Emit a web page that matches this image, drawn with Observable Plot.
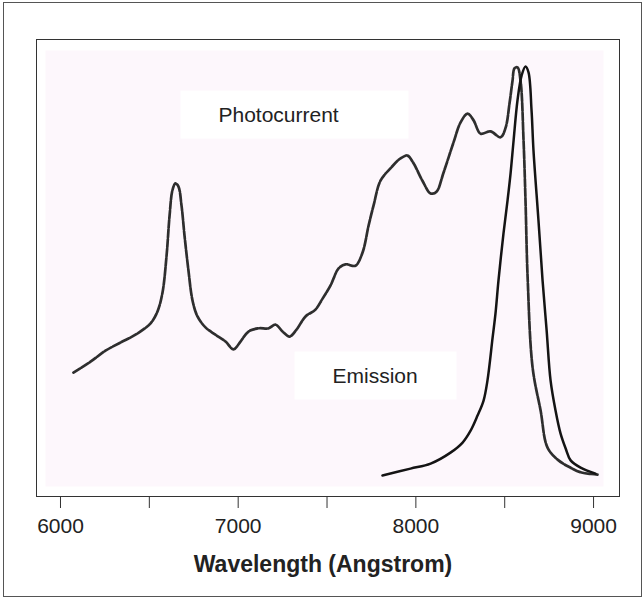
<!DOCTYPE html>
<html><head><meta charset="utf-8">
<script src="https://cdn.jsdelivr.net/npm/d3@7"></script>
<script src="https://cdn.jsdelivr.net/npm/@observablehq/plot@0.6"></script>
<style>
body{margin:0;background:#fff;}
#border{position:absolute;left:3px;top:2px;width:639px;height:595px;border:1px solid #555;box-sizing:border-box;}
#chart{position:absolute;left:0;top:0;}
</style></head><body>
<div id="border"></div><div id="chart"></div>
<script>
// Photocurrent spectrum (wavelength in Angstrom, relative intensity)
const photoWl = [6073,6169,6253,6338,6422,6507,6546,6574,6597,6614,6630,6647,6664,6681,6698,6720,6743,6771,6816,6872,6929,6974,7013,7058,7114,7171,7210,7250,7289,7328,7379,7435,7475,7520,7565,7604,7660,7700,7734,7762,7801,7857,7914,7953,7987,8037,8083,8116,8156,8212,8251,8291,8325,8364,8420,8477,8505,8527,8544,8555,8572,8589,8606,8617,8629,8657,8702,8741,8803,8871,8927,9022];
const photoVal = [27.1,29.5,31.9,33.7,35.4,37.9,40.5,44.6,52.7,61.5,67.0,68.5,67.8,63.7,57.1,49.5,42.9,39.4,37.0,35.4,33.9,32.2,33.9,36.1,36.8,36.8,37.6,36.1,35.0,36.5,39.4,40.9,43.3,46.2,49.9,50.8,50.5,53.4,59.3,63.7,69.1,71.8,74.0,74.6,72.9,69.1,66.3,66.7,70.9,77.5,81.8,83.8,82.3,79.4,79.9,78.6,80.7,86.0,91.0,93.7,93.9,91.0,77.9,64.8,47.9,28.2,18.8,10.7,7.9,6.3,5.3,4.8];
// Emission spectrum
const emisWl = [7812,7970,8083,8195,8263,8308,8347,8381,8403,8432,8448,8465,8493,8516,8533,8550,8572,8595,8617,8634,8651,8662,8690,8713,8736,8758,8786,8814,8843,8871,8927,9011];
const emisVal = [4.6,6.1,7.2,9.6,11.8,14.4,17.7,21.0,25.4,34.8,40.0,47.3,57.5,64.8,70.7,77.9,86.7,92.1,94.1,92.8,84.5,75.7,60.4,47.3,36.3,25.4,18.8,13.8,10.5,7.9,6.3,5.0];
// Axis
const xTicks = [6000,6500,7000,7500,8000,8500,9000];
const xTickLabels = [6000,7000,8000,9000];
const xTitle = "Wavelength (Angstrom)";
// Series labels (anchored at their left edge, in data units)
const labelNames = ["Photocurrent","Emission"];
const labelWl = [6889,7531];
const labelVal = [83.4,26.3];

const FONT = "'Liberation Sans', Arial, Helvetica, sans-serif";
const photo = photoWl.map((w,i)=>({wl:w, v:photoVal[i]}));
const emis = emisWl.map((w,i)=>({wl:w, v:emisVal[i]}));
const labels = labelNames.map((n,i)=>({name:n, wl:labelWl[i], v:labelVal[i]}));
const labelSet = new Set(xTickLabels);

const svg = Plot.plot({
  width: 644, height: 598,
  marginLeft: 36, marginRight: 25, marginTop: 39, marginBottom: 102,
  style: {fontFamily: FONT, fontSize: "21px", color: "#222", background: "transparent"},
  x: {domain: [5865, 9146], axis: null},
  y: {domain: [0, 100], axis: null},
  marks: [
    Plot.frame({fill: "#fdf7fc", stroke: null, insetLeft: 9, insetRight: 16, insetTop: 11, insetBottom: 10}),
    Plot.line(photo, {x: "wl", y: "v", stroke: "#2e2e2e", strokeWidth: 2.7, strokeDasharray: "8 1.5", curve: "catmull-rom"}),
    Plot.line(emis, {x: "wl", y: "v", stroke: "#141414", strokeWidth: 2.5, curve: "catmull-rom"}),
    Plot.text(labels, {x: "wl", y: "v", text: "name", textAnchor: "start", fontSize: 21, fill: "#222"}),
    Plot.frame({stroke: "#333", strokeWidth: 1}),
    Plot.axisX(xTicks, {tickSize: 12, tickPadding: 10, tickFormat: d => labelSet.has(d) ? String(d) : "", label: null, fontSize: 21, stroke: "#333"}),
    Plot.text([xTitle], {frameAnchor: "bottom", dy: 68, dx: -5, text: d => d, fontSize: 23, fontWeight: "bold", fill: "#222", lineAnchor: "middle"})
  ]
});
document.getElementById("chart").appendChild(svg);

// white boxes behind the series labels
const boxW = {"Photocurrent": 228, "Emission": 162};
const ns = "http://www.w3.org/2000/svg";
const boxG = document.createElementNS(ns, "g");
const svgRect = svg.getBoundingClientRect();
Array.from(svg.querySelectorAll("text")).forEach(t => {
  const name = t.textContent.trim();
  if (!(name in boxW)) return;
  const b = t.getBoundingClientRect();
  const cy = b.top - svgRect.top + b.height/2;
  const r = document.createElementNS(ns, "rect");
  r.setAttribute("x", b.left - svgRect.left - 38);
  r.setAttribute("y", cy - 24);
  r.setAttribute("width", boxW[name]);
  r.setAttribute("height", 48);
  r.setAttribute("fill", "#ffffff");
  boxG.appendChild(r);
});
const firstLine = svg.querySelector('g[aria-label="line"]') || svg.firstChild.nextSibling;
svg.insertBefore(boxG, firstLine);
</script>
</body></html>
